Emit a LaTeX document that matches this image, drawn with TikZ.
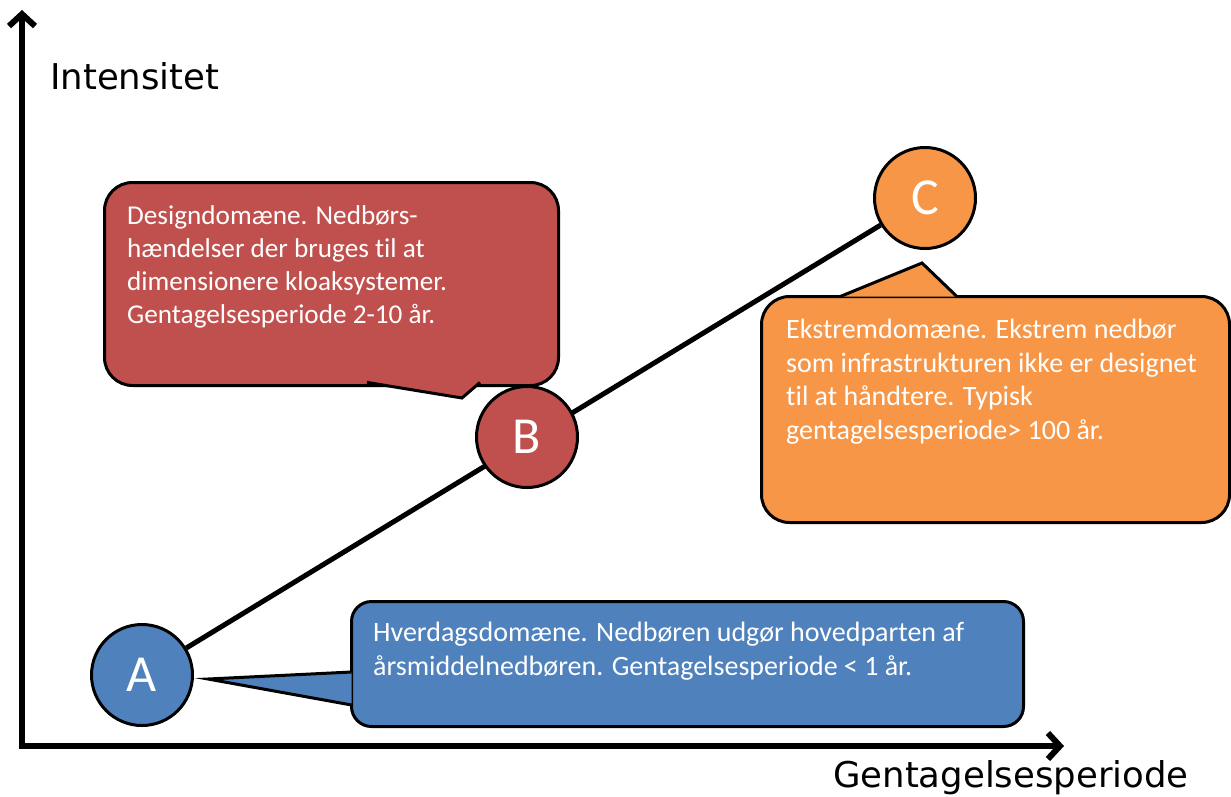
\documentclass[tikz,border=0pt]{standalone}
\usepackage{fontspec}
\setmainfont{Carlito}[Ligatures=NoCommon]
\newfontfamily\axisfont{DejaVu Sans}
\usetikzlibrary{positioning,arrows.meta}
\definecolor{domblue}{HTML}{4F81BD}
\definecolor{domred}{HTML}{C0504D}
\definecolor{domorange}{HTML}{F79646}

\begin{document}
\begin{tikzpicture}[
  x=1pt, y=-1pt,
  axis/.style={line width=6pt, line cap=rect, -{Straight Barb[length=12pt, width=26pt]}},
  conn/.style={line width=5pt},
  dom/.style={circle, draw, line width=3pt, minimum size=101pt, inner sep=0pt,
    text=white, font=\fontsize{52}{52}\selectfont},
  box/.style={draw, line width=3pt, rounded corners=28pt, anchor=north west, inner sep=0pt},
  tail/.style={draw, line width=3pt},
  txt/.style={anchor=north west, inner sep=0pt, align=left, text=white,
    font=\fontsize{28}{33.5}\selectfont},
  lbl/.style={inner sep=0pt, anchor=base west, font=\axisfont\fontsize{35.5}{36}\selectfont},
]
  \useasboundingbox (0,0) rectangle (1231,796);

  % Axes
  \coordinate (O) at (22,746);
  \coordinate (ytop) at (22,10);
  \coordinate (xend) at (1064,746);
  \draw[axis] (O) -- (ytop);
  \draw[axis] (O) -- (xend);
  \node[lbl] (ylbl) at (50,89) {Intensitet};
  \node[lbl] (xlbl) at (833,787) {Gentagelsesperiode};

  % Callout boxes
  \node[box, fill=domred, minimum width=454pt, minimum height=203pt] (boxB) at (103,181) {};
  \node[box, fill=domorange, minimum width=468pt, minimum height=226pt] (boxC) at (760,295) {};
  \node[box, fill=domblue, rounded corners=20pt, minimum width=672pt, minimum height=125pt] (boxA) at (350,600) {};

  % Callout tails (base just inside the box border)
  \coordinate (tipB) at (462,398);
  \coordinate (tipC) at (922,263);
  \coordinate (tipA) at (208,679);
  \fill[domred] (367,382.4) -- (tipB) -- (480,382.4);
  \draw[tail] (367,382.4) -- (tipB) -- (480,382.4);
  \fill[domorange] (840,296.6) -- (tipC) -- (957,296.6);
  \draw[tail] (840,296.6) -- (tipC) -- (957,296.6);
  \fill[domblue] (351.6,672) -- (tipA) -- (351.6,705);
  \draw[tail] (351.6,672) -- (tipA) -- (351.6,705);

  \node[txt, font=\fontsize{27.2}{33}\selectfont] (tB) at (127,205) {Designdomæne. Nedbørs-\\hændelser der bruges til at\\dimensionere kloaksystemer.\\Gentagelsesperiode 2-10 år.};
  \node[txt] (tC) at (786,319) {Ekstremdomæne. Ekstrem nedbør\\som infrastrukturen ikke er designet\\til at håndtere. Typisk\\gentagelsesperiode> 100 år.};
  \node[txt] (tA) at (373,622) {Hverdagsdomæne. Nedbøren udgør hovedparten af\\årsmiddelnedbøren. Gentagelsesperiode < 1 år.};

  % Domains
  \node[dom, fill=domblue] (A) at (142,675) {A};
  \node[dom, fill=domorange] (C) at (925,198) {C};
  \draw[conn] (A) -- (C);
  \node[dom, fill=domred] (B) at (527,437) {B};
\end{tikzpicture}
\end{document}
